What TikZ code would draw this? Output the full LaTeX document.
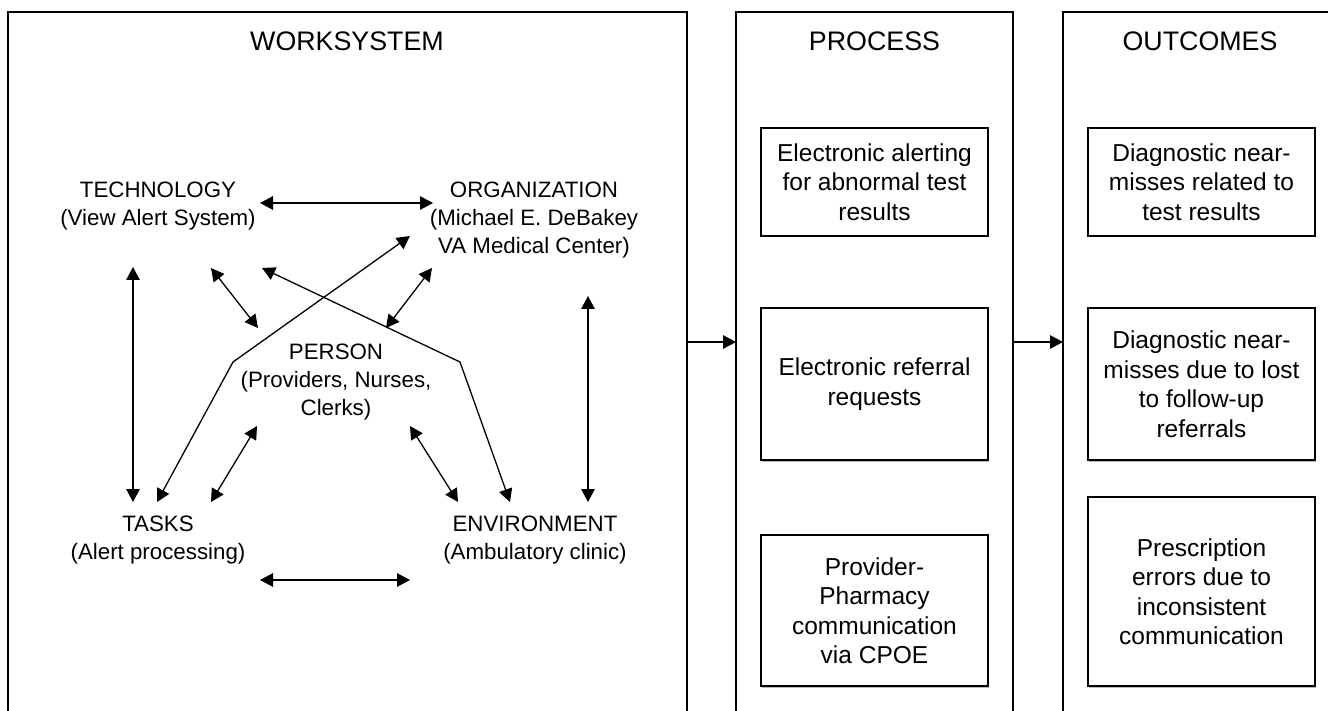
\documentclass[tikz,border=0pt]{standalone}
\usepackage{fontspec}
\setmainfont{Liberation Sans}
\usetikzlibrary{arrows.meta,shadows}

\newcommand{\titlefont}{\fontsize{26.8}{31}\selectfont}
\newcommand{\boxfont}{\fontsize{24.5}{29.5}\selectfont}
\newcommand{\lblfont}{\fontsize{22.3}{28}\selectfont}

\tikzset{
  frame/.style={draw, line width=1.3pt, minimum height=760pt, inner sep=0pt, outer sep=0pt, anchor=north west},
  title/.style={font=\titlefont, inner sep=0pt},
  box/.style={draw, line width=1.3pt, fill=white, align=center, inner sep=0pt, outer sep=0pt,
    minimum width=227pt, font=\boxfont,
    general shadow={fill=gray!55, shadow xshift=1pt, shadow yshift=-1.5pt}},
  lbl/.style={align=center, font=\lblfont, inner sep=0pt},
  tip/.tip={Triangle[length=13pt,width=13.5pt]},
  sarrow/.style={-tip, line width=1.3pt},
  dbl/.style={tip-tip, line width=1.3pt}
}

\begin{document}
\begin{tikzpicture}[x=1pt,y=-1pt]
\useasboundingbox (0,0) rectangle (1328,711);
\clip (0,0) rectangle (1328,711);
% the three columns
\node[frame, minimum width=679pt] (work) at (8,12) {};
\node[frame, minimum width=277pt] (proc) at (736,12) {};
\node[frame, minimum width=278pt] (outc) at (1063,12) {};
\node[title] (worktitle) at (347,41) {WORKSYSTEM};
\node[title] (proctitle) at (874.5,41) {PROCESS};
\node[title] (outctitle) at (1200,41) {OUTCOMES};
\coordinate (flow) at (0,342);
\draw[sarrow] (work.east |- flow) -- (proc.west |- flow);
\draw[sarrow] (proc.east |- flow) -- (outc.west |- flow);
% process
\node[box, minimum height=108pt] (alert) at (874.5,182) {Electronic alerting\\for abnormal test\\results};
\node[box, minimum height=152pt] (referral) at (874.5,384) {Electronic referral\\requests};
\node[box, minimum height=151pt] (cpoe) at (874.5,610.5) {Provider-\\Pharmacy\\communication\\via CPOE};
% outcomes
\node[box, minimum height=108pt] (nmtest) at (1201.5,182) {Diagnostic near-\\misses related to\\test results};
\node[box, minimum height=152pt] (nmref) at (1201.5,384) {Diagnostic near-\\misses due to lost\\to follow-up\\referrals};
\node[box, minimum height=189pt] (rxerr) at (1201.5,591.5) {Prescription\\errors due to\\inconsistent\\communication};
% work system elements
\node[lbl] (tech) at (158,206) {TECHNOLOGY\\(View Alert System)};
\node[lbl] (org) at (534,220) {ORGANIZATION\\(Michael E. DeBakey\\VA Medical Center)};
\node[lbl] (person) at (336,382) {PERSON\\(Providers, Nurses,\\Clerks)};
\node[lbl] (tasks) at (158,540) {TASKS\\(Alert processing)};
\node[lbl] (env) at (535,540) {ENVIRONMENT\\(Ambulatory clinic)};
% arrow ends
\coordinate (techE) at (260,203);  \coordinate (orgW) at (433,203);
\coordinate (techS) at (133,267);  \coordinate (tasksN) at (133,502);
\coordinate (orgS) at (588,296);   \coordinate (envN) at (588,502);
\coordinate (tasksE) at (260,580); \coordinate (envW) at (410,580);
\coordinate (techP) at (211,268);  \coordinate (persTL) at (258,328);
\coordinate (orgP) at (432,268);   \coordinate (persTR) at (386,328);
\coordinate (persBL) at (257,426); \coordinate (tasksP) at (211,502);
\coordinate (persBR) at (410,426); \coordinate (envP) at (458,502);
\coordinate (tasksO) at (157,502); \coordinate (bendL) at (233,362); \coordinate (orgT) at (410,236);
\coordinate (techEnv) at (262,268); \coordinate (bendR) at (460,362); \coordinate (envT) at (510,502);
\draw[dbl] (techE) -- (orgW);
\draw[dbl] (techS) -- (tasksN);
\draw[dbl] (orgS) -- (envN);
\draw[dbl] (tasksE) -- (envW);
\draw[dbl] (techP) -- (persTL);
\draw[dbl] (orgP) -- (persTR);
\draw[dbl] (persBL) -- (tasksP);
\draw[dbl] (persBR) -- (envP);
\draw[dbl] (tasksO) -- (bendL) -- (orgT);
\draw[dbl] (techEnv) -- (bendR) -- (envT);
\end{tikzpicture}
\end{document}
